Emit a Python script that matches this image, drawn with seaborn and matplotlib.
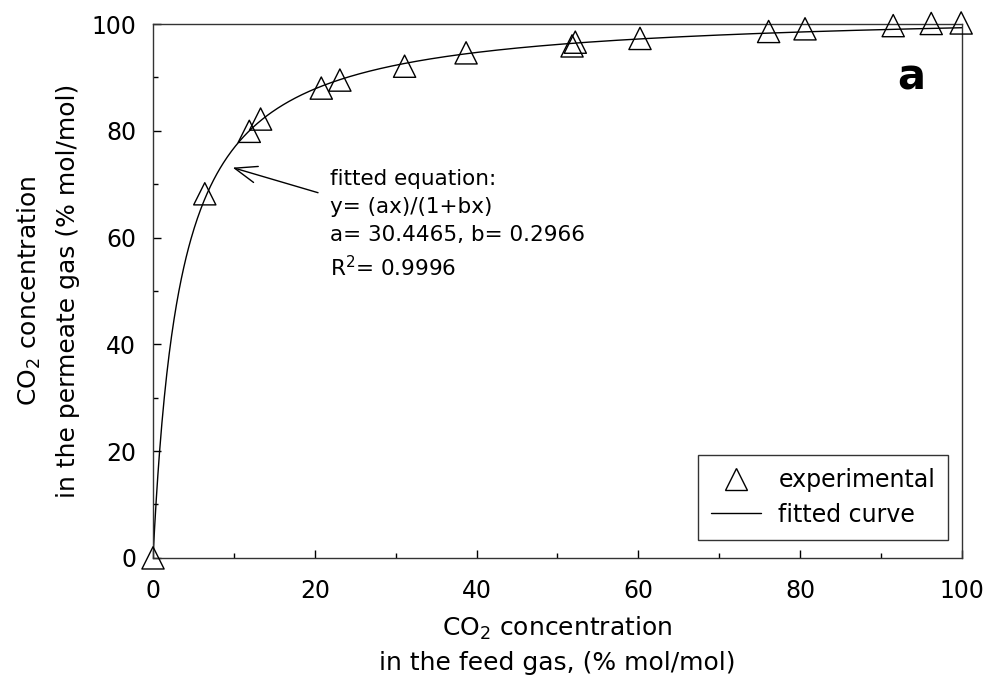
import numpy as np
import pandas as pd
import matplotlib
matplotlib.use("Agg")
import matplotlib.pyplot as plt
import seaborn as sns
from matplotlib.lines import Line2D
from matplotlib.ticker import MultipleLocator

feed_x = [0.0, 6.4, 11.9, 13.3, 20.8, 23.1, 31.1, 38.7, 51.8, 52.2, 60.2, 76.1, 80.6, 91.5, 96.2, 99.9]
perm_y = [0.0, 68.2, 79.9, 82.2, 88.0, 89.5, 92.1, 94.6, 95.9, 96.6, 97.3, 98.6, 99.1, 99.7, 100.1, 100.2]

# fitted equation parameters (from annotation)
a_par = 30.4465
b_par = 0.2966
r2 = 0.9996

x_ticks = [0, 20, 40, 60, 80, 100]
y_ticks = [0, 20, 40, 60, 80, 100]

sns.set_style("ticks")
plt.rcParams['font.family'] = ['DejaVu Sans']
plt.rcParams['mathtext.fontset'] = 'dejavusans'
plt.rcParams['text.color'] = 'black'
plt.rcParams['axes.labelcolor'] = 'black'

fig = plt.figure(figsize=(9.91, 6.82), dpi=100)
ax = fig.add_axes([0.1544, 0.182, 0.8163, 0.7828])

xc = np.linspace(0, 100, 1001)
yc = a_par * xc / (1 + b_par * xc)
curve = pd.DataFrame({"x": xc, "y": yc})
exp = pd.DataFrame({"x": feed_x, "y": perm_y})

sns.lineplot(data=curve, x="x", y="y", ax=ax, color="black", linewidth=1.0)
sns.scatterplot(data=exp, x="x", y="y", ax=ax, marker="^", s=16 ** 2,
                linewidth=1.0, zorder=3, clip_on=False)
coll = ax.collections[-1]
coll.set_facecolor("none")
coll.set_edgecolor("black")
coll.set_clip_on(False)

ax.set_xlim(0, 100)
ax.set_ylim(0, 100)
ax.set_xticks(x_ticks)
ax.set_yticks(y_ticks)
ax.xaxis.set_minor_locator(MultipleLocator(10))
ax.yaxis.set_minor_locator(MultipleLocator(10))
ax.tick_params(which="both", direction="in", top=False, right=False, labelsize=17,
               colors="black", labelcolor="black")
ax.tick_params(axis="x", which="both", pad=15)
ax.tick_params(axis="y", which="both", pad=12)
ax.tick_params(which="major", length=6, width=1)
ax.tick_params(which="minor", length=3.5, width=1)
for sp in ax.spines.values():
    sp.set_visible(True)
    sp.set_linewidth(1.0)
    sp.set_color("#333333")

ax.set_xlabel("CO$_2$ concentration\nin the feed gas, (% mol/mol)", fontsize=18,
              labelpad=9, linespacing=1.45)
ax.set_ylabel("CO$_2$ concentration\nin the permeate gas (% mol/mol)", fontsize=18,
              labelpad=8, linespacing=1.7)

ax.annotate("", xy=(9.85, 73.1), xytext=(20.4, 68.4),
            arrowprops=dict(arrowstyle="->,head_length=16,head_width=6", color="black",
                            lw=1.0, mutation_scale=1, shrinkA=0, shrinkB=0))
ax.text(21.9, 72.9, "fitted equation:\ny= (ax)/(1+bx)\na= %.4f, b= %.4f\nR$^2$= %.4f" % (a_par, b_par, r2),
        fontsize=15.5, va="top", ha="left", linespacing=1.5)

ax.text(0.937, 0.90, "a", transform=ax.transAxes, fontsize=30, fontweight="bold",
        ha="center", va="center", color="black")

handles = [Line2D([], [], marker="^", linestyle="none", markersize=16, markerfacecolor="none",
                  markeredgecolor="black", markeredgewidth=1.0),
           Line2D([], [], color="black", linewidth=1.0)]
leg = ax.legend(handles, ["experimental", "fitted curve"], loc="lower right",
                bbox_to_anchor=(0.983, 0.034), borderaxespad=0, fontsize=17, frameon=True,
                fancybox=False, edgecolor="black", handlelength=2.1, handletextpad=0.75,
                borderpad=0.55, labelspacing=0.45)
leg.get_frame().set_linewidth(1.0)

fig.savefig("out.png", dpi=100)
